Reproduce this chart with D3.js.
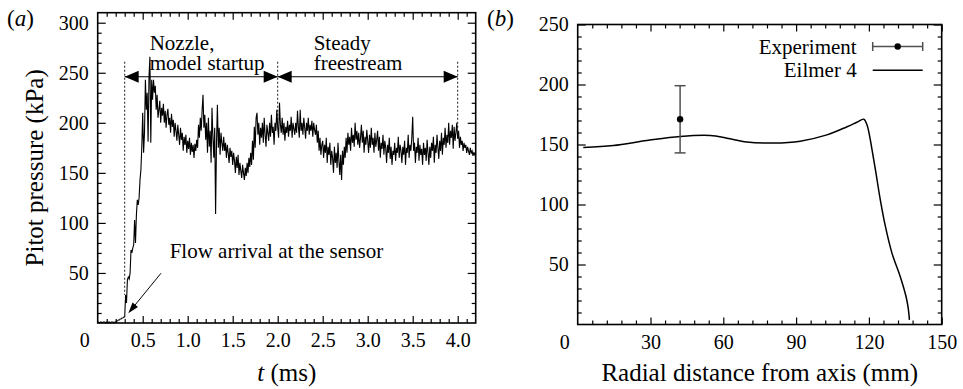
<!DOCTYPE html>
<html>
<head>
<meta charset="utf-8">
<script src="https://cdn.jsdelivr.net/npm/d3@7"></script>
<style>
  body { margin: 0; background: #fff; }
  svg, svg text { font-family: "Liberation Serif", "Times New Roman", serif; }
</style>
</head>
<body>
<div id="chart"></div>
<script>
// (a) pitot trace, sampled every dt ms starting at t = 0
const dt = 0.01;
const pitotTrace = [
  1,1,0,1,1,0,1,1,1,0,
  1,0,1,1,0,1,1,1,0,1,
  1,2,2,3,3,4,4,5,5,6,
  6,28,20,43,46,44,50,73,70,75,
  78,103,80,108,123,118,125,143,153,176,
  210,170,190,243,213,230,181,246,266,180,
  243,223,243,230,237,213,228,205,213,222,
  200,215,207,219,200,212,195,208,214,198,
  205,190,209,196,203,186,200,192,182,198,
  188,178,195,183,190,172,186,178,188,170,
  182,174,185,168,180,171,178,165,179,172,
  183,175,198,185,205,192,212,228,195,208,
  183,200,170,205,176,192,160,215,186,165,
  195,109,180,218,175,195,168,190,180,172,
  186,172,180,165,178,170,160,175,166,172,
  158,170,162,150,166,155,168,148,160,152,
  145,158,150,143,155,147,160,150,165,156,
  170,158,182,163,196,175,205,210,188,200,
  178,195,185,200,180,205,188,176,198,190,
  182,200,186,208,190,196,178,200,192,213,
  195,185,220,198,190,205,188,200,182,196,
  190,202,186,198,192,206,185,200,194,188,
  200,190,212,196,185,213,192,200,188,205,
  195,184,200,192,205,188,198,192,202,186,
  200,193,188,198,180,192,172,185,168,178,
  182,165,178,170,185,160,176,168,180,158,
  172,165,150,176,160,170,155,180,162,148,
  168,143,172,158,176,165,185,170,190,178,
  186,172,195,180,188,176,200,183,192,178,
  190,175,185,198,180,192,170,186,178,193,
  182,170,188,175,195,178,185,170,190,176,
  183,192,172,186,165,180,174,188,168,182,
  175,160,178,170,185,164,176,158,172,168,
  180,162,175,170,186,165,178,172,160,176,
  168,182,158,175,170,188,165,178,172,185,
  206,172,180,160,176,170,185,162,178,168,
  174,158,180,168,175,162,183,170,158,176,
  165,180,172,186,160,178,170,188,175,164,
  182,172,190,168,185,178,195,175,188,180,
  200,178,192,185,198,174,196,182,190,200,
  184,192,175,186,178,182,172,180,175,178,
  170,176,172,168,175,170,172,167,170,168,
  166
];
const tTicks = [0.5, 1.0, 1.5, 2.0, 2.5, 3.0, 3.5, 4.0];
const pTicksA = [50, 100, 150, 200, 250, 300];
const phaseBounds = [0.3, 2.0, 4.0];
const phaseEnds = [28, 200, 195];        // where the dotted markers meet the trace (kPa)
const phaseLabels = [["Nozzle,", "model startup"], ["Steady", "freestream"]];

// (b) radial profile
const radius = [2.3, 14.7, 28.5, 42.2, 54.6, 61.5, 69.7, 80.7, 91.7, 102.7, 111, 115, 117.9, 119.2, 120.3, 121.3, 122.7, 124.7, 126.8, 129.5, 132.9, 135.3, 136.2, 136.7];
const eilmer = [147.5, 149.2, 153.3, 156.7, 157.5, 155.3, 152, 151.2, 152.8, 158, 164.8, 168.5, 171.1, 166.4, 157, 145.6, 128.9, 103.9, 81.7, 59.5, 40, 23.3, 13.7, 3.9];
const expR = [42.2];
const expP = [171];
const expLo = [143];
const expHi = [199];
const rTicks = [30, 60, 90, 120, 150];
const pTicksB = [50, 100, 150, 200, 250];

const FONT = '"Liberation Serif", "Times New Roman", serif';
const svg = d3.select('#chart').append('svg')
  .attr('width', 963).attr('height', 389)
  .attr('font-family', FONT);

// place text by measuring it instead of relying on text-anchor
function anchor(sel, how) {
  sel.each(function () {
    const el = d3.select(this);
    const w = this.getComputedTextLength();
    const x = +el.attr('x') || 0;
    el.attr('text-anchor', 'start').attr('x', how === 'end' ? x - w : x - w / 2);
  });
  return sel;
}
function label(x, y, size, str, how) {
  const t = svg.append('text').attr('x', x).attr('y', y)
    .attr('font-family', FONT).attr('font-size', size).attr('fill', '#000').text(str);
  if (how) anchor(t, how);
  return t;
}

const xA = d3.scaleLinear().domain([0, 4.2]).range([97.7, 475.7]);
const yA = d3.scaleLinear().domain([0, 310]).range([323, 12.7]);
const xB = d3.scaleLinear().domain([0, 150]).range([577.7, 941.7]);
const yB = d3.scaleLinear().domain([0, 250]).range([324.5, 24.5]);

function frame(x, y, xMajor, xMinor, yMajor, yMinor, xFmt) {
  const g = svg.append('g');
  const [x0, x1] = x.range();
  const [y0, y1] = y.range();
  const styleAxis = (sel, how) => {
    sel.attr('font-family', FONT).attr('font-size', 20);
    sel.select('.domain').remove();
    sel.selectAll('line').attr('stroke', '#000').attr('stroke-width', 1.2);
    const txt = sel.selectAll('text').attr('font-family', FONT).attr('font-size', 20).attr('fill', '#000');
    if (how) anchor(txt, how);
  };
  g.append('g').attr('transform', `translate(0,${y0})`)
    .call(d3.axisBottom(x).tickValues(xMajor).tickSize(-7).tickPadding(10).tickFormat(xFmt)).call(styleAxis, 'middle');
  g.append('g').attr('transform', `translate(0,${y0})`)
    .call(d3.axisBottom(x).tickValues(xMinor).tickSize(-4).tickFormat('')).call(styleAxis);
  g.append('g').attr('transform', `translate(0,${y1})`)
    .call(d3.axisTop(x).tickValues(xMajor).tickSize(-7).tickFormat('')).call(styleAxis);
  g.append('g').attr('transform', `translate(0,${y1})`)
    .call(d3.axisTop(x).tickValues(xMinor).tickSize(-4).tickFormat('')).call(styleAxis);
  g.append('g').attr('transform', `translate(${x0},0)`)
    .call(d3.axisLeft(y).tickValues(yMajor).tickSize(-8).tickPadding(9)).call(styleAxis, 'end');
  g.append('g').attr('transform', `translate(${x0},0)`)
    .call(d3.axisLeft(y).tickValues(yMinor).tickSize(-4).tickFormat('')).call(styleAxis);
  g.append('g').attr('transform', `translate(${x1},0)`)
    .call(d3.axisRight(y).tickValues(yMajor).tickSize(-8).tickFormat('')).call(styleAxis);
  g.append('g').attr('transform', `translate(${x1},0)`)
    .call(d3.axisRight(y).tickValues(yMinor).tickSize(-4).tickFormat('')).call(styleAxis);
  g.append('rect').attr('x', x0).attr('y', y1).attr('width', x1 - x0).attr('height', y0 - y1)
    .attr('fill', 'none').attr('stroke', '#000').attr('stroke-width', 1.6);
  // corner zero shared by both axes
  label(x0 - 13, y0 + 24, 20, '0', 'middle');
}

// ---------- panel (a)
frame(xA, yA, tTicks, d3.range(0.1, 4.2, 0.1).filter(v => Math.abs(v * 2 - Math.round(v * 2)) > 1e-6),
  pTicksA, d3.range(10, 310, 10).filter(v => v % 50), d3.format('.1f'));

const line = d3.line().x((d, i) => xA(i * dt)).y(d => yA(d));
svg.append('path').datum(pitotTrace).attr('d', line)
  .attr('fill', 'none').attr('stroke', '#000').attr('stroke-width', 1.1);

// phase markers
svg.append('g').selectAll('line').data(phaseBounds).join('line')
  .attr('x1', d => xA(d)).attr('x2', d => xA(d))
  .attr('y1', yA(261)).attr('y2', (d, i) => yA(phaseEnds[i]))
  .attr('stroke', '#000').attr('stroke-width', 0.9).attr('stroke-dasharray', '2,2');

const arrowY = yA(246);
function head(tipX, tipY, dir, len, half) {
  // dir: unit vector pointing toward tip
  const bx = tipX - dir[0] * len, by = tipY - dir[1] * len;
  const nx = -dir[1] * half, ny = dir[0] * half;
  svg.append('path').attr('d', `M${tipX},${tipY}L${bx + nx},${by + ny}L${bx - nx},${by - ny}Z`)
    .attr('fill', '#000');
}
for (let i = 0; i < 2; i++) {
  const a = xA(phaseBounds[i]), b = xA(phaseBounds[i + 1]);
  svg.append('line').attr('x1', a).attr('x2', b).attr('y1', arrowY).attr('y2', arrowY)
    .attr('stroke', '#000').attr('stroke-width', 1.2);
  head(a, arrowY, [-1, 0], 14, 6);
  head(b, arrowY, [1, 0], 14, 6);
  const lx = i === 0 ? a + 25 : a + 36;
  phaseLabels[i].forEach((s, k) => label(lx, 50 + k * 20, 21, s));
}

// flow arrival annotation
{
  const sx = xA(0.703), sy = yA(49.7), tx = xA(0.34), ty = yA(9.7);
  const L = Math.hypot(tx - sx, ty - sy);
  const dir = [(tx - sx) / L, (ty - sy) / L];
  svg.append('line').attr('x1', sx).attr('y1', sy).attr('x2', tx - dir[0] * 8).attr('y2', ty - dir[1] * 8)
    .attr('stroke', '#000').attr('stroke-width', 1);
  head(tx, ty, dir, 11, 3.5);
  label(xA(0.8), yA(64.5), 21, 'Flow arrival at the sensor');
}

label(7, 26, 23, '').html('(<tspan font-style="italic">a</tspan>)');
anchor(label((xA.range()[0] + xA.range()[1]) / 2, 381, 25, '')
  .html('<tspan font-style="italic">t</tspan> (ms)'), 'middle');
svg.append('text').attr('transform', `translate(42.5,${(yA.range()[0] + yA.range()[1]) / 2}) rotate(-90)`)
  .attr('x', 0).attr('y', 0).attr('font-family', FONT).attr('font-size', 25)
  .text('Pitot pressure (kPa)').call(anchor, 'middle');

// ---------- panel (b)
frame(xB, yB, rTicks, d3.range(6, 150, 6).filter(v => v % 30), pTicksB,
  d3.range(10, 250, 10).filter(v => v % 50), d3.format('d'));

svg.append('path').datum(radius.map((r, i) => [r, eilmer[i]]))
  .attr('d', d3.line().x(d => xB(d[0])).y(d => yB(d[1])).curve(d3.curveCatmullRom))
  .attr('fill', 'none').attr('stroke', '#000').attr('stroke-width', 1.5);

const errCol = '#505050';
expR.forEach((r, i) => {
  const x = xB(r);
  svg.append('line').attr('x1', x).attr('x2', x).attr('y1', yB(expLo[i])).attr('y2', yB(expHi[i]))
    .attr('stroke', errCol).attr('stroke-width', 1.5);
  [expLo[i], expHi[i]].forEach(v => svg.append('line').attr('x1', x - 5.5).attr('x2', x + 5.5)
    .attr('y1', yB(v)).attr('y2', yB(v)).attr('stroke', errCol).attr('stroke-width', 1.5));
  svg.append('circle').attr('cx', x).attr('cy', yB(expP[i])).attr('r', 3.2).attr('fill', '#000');
});

// legend
{
  const tx = 856.7, sx0 = 872.7, sx1 = 922.7;
  label(tx, 54, 21, 'Experiment', 'end');
  label(tx, 77, 21, 'Eilmer 4', 'end');
  svg.append('line').attr('x1', sx0).attr('x2', sx1).attr('y1', 46.5).attr('y2', 46.5).attr('stroke', errCol).attr('stroke-width', 1.5);
  [sx0, sx1].forEach(x => svg.append('line').attr('x1', x).attr('x2', x).attr('y1', 42).attr('y2', 51)
    .attr('stroke', errCol).attr('stroke-width', 1.5));
  svg.append('circle').attr('cx', (sx0 + sx1) / 2).attr('cy', 46.5).attr('r', 3.2).attr('fill', '#000');
  svg.append('line').attr('x1', sx0).attr('x2', sx1).attr('y1', 70.3).attr('y2', 70.3).attr('stroke', '#000').attr('stroke-width', 1.5);
}

label(487, 26, 23, '').html('(<tspan font-style="italic">b</tspan>)');
label((xB.range()[0] + xB.range()[1]) / 2, 381, 25, 'Radial distance from axis (mm)', 'middle');
</script>
</body>
</html>
